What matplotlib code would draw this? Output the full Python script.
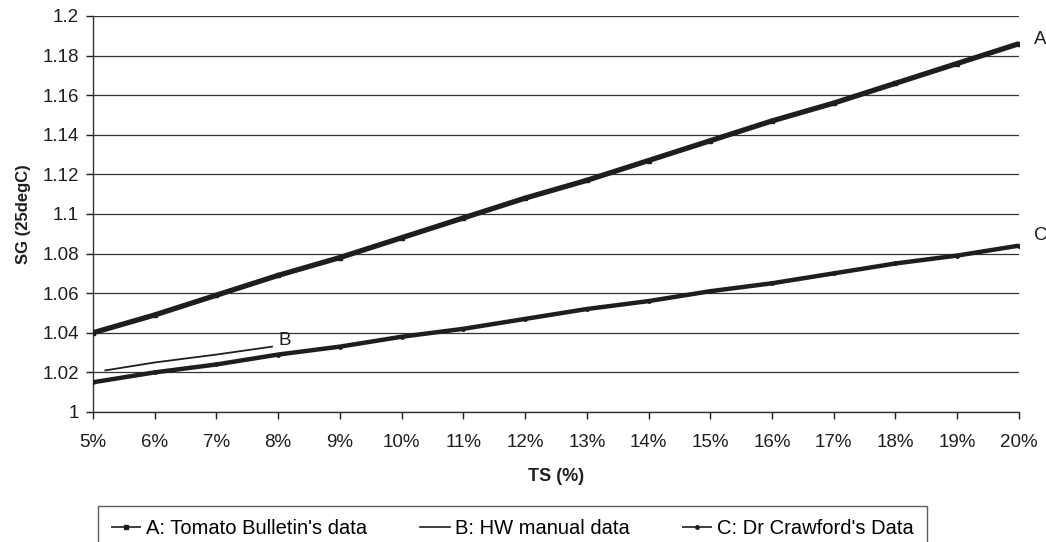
import matplotlib
matplotlib.use("Agg")
from matplotlib import pyplot as plt

plt.rcParams['font.family'] = ['Liberation Sans', 'DejaVu Sans']

ts = [5, 6, 7, 8, 9, 10, 11, 12, 13, 14, 15, 16, 17, 18, 19, 20]
sg_a = [1.040, 1.049, 1.059, 1.069, 1.078, 1.088, 1.098, 1.108,
        1.117, 1.127, 1.137, 1.147, 1.156, 1.166, 1.176, 1.186]
sg_c = [1.015, 1.020, 1.024, 1.029, 1.033, 1.038, 1.042, 1.047,
        1.052, 1.056, 1.061, 1.065, 1.070, 1.075, 1.079, 1.084]
ts_b = [5.2, 6.0, 7.0, 7.9]
sg_b = [1.021, 1.025, 1.029, 1.033]

yticks = [1.0, 1.02, 1.04, 1.06, 1.08, 1.1, 1.12, 1.14, 1.16, 1.18, 1.2]
ytick_labels = ['1', '1.02', '1.04', '1.06', '1.08', '1.1', '1.12', '1.14', '1.16', '1.18', '1.2']
xtick_labels = [f"{v}%" for v in ts]

ink = '#1e1e1e'

fig = plt.figure(figsize=(10.46, 5.42), dpi=100)
ax = fig.add_axes([0.0889, 0.2399, 0.8852, 0.7306])

ax.plot(ts, sg_a, color=ink, lw=3.8, marker='s', ms=2.5, solid_capstyle='butt',
        label="A: Tomato Bulletin's data", zorder=3)
ax.plot(ts_b, sg_b, color=ink, lw=1.3, label="B: HW manual data", zorder=3)
ax.plot(ts, sg_c, color=ink, lw=3.2, marker='o', ms=2.5, solid_capstyle='butt',
        label="C: Dr Crawford's Data", zorder=3)

ax.text(20.25, 1.188, 'A', fontsize=13.5, color=ink, va='center', ha='left')
ax.text(20.25, 1.089, 'C', fontsize=13.5, color=ink, va='center', ha='left')
ax.text(8.0, 1.036, 'B', fontsize=13.5, color=ink, va='center', ha='left')

ax.set_xlim(5, 20)
ax.set_ylim(1.0, 1.2)
ax.set_xticks(ts)
ax.set_xticklabels(xtick_labels)
ax.set_yticks(yticks)
ax.set_yticklabels(ytick_labels)
ax.tick_params(axis='both', labelsize=13.5, colors=ink, length=5, width=1, direction='out')
ax.tick_params(axis='x', pad=11)
ax.tick_params(axis='y', pad=5)

ax.grid(axis='y', color='#333333', lw=0.9)
ax.set_axisbelow(True)
for side in ['top', 'right']:
    ax.spines[side].set_visible(False)
for side in ['left', 'bottom']:
    ax.spines[side].set_color('#333333')
    ax.spines[side].set_linewidth(1.0)

ax.set_xlabel('TS (%)', fontsize=13, fontweight='bold', color=ink, labelpad=12)
ax.set_ylabel('SG (25degC)', fontsize=12, fontweight='bold', color=ink, labelpad=8)

leg = fig.legend(loc='upper left', ncol=3, bbox_to_anchor=(98 / 1046, 1 - 506 / 542),
                 fontsize=14.5, frameon=True, fancybox=False,
                 handlelength=1.5, handletextpad=0.25, columnspacing=2.6,
                 borderpad=0.65, borderaxespad=0)
leg.get_frame().set_edgecolor('#333333')
leg.get_frame().set_linewidth(1.0)
for line in leg.get_lines():
    line.set_linewidth(1.2)

fig.savefig('out.png', dpi=100)
